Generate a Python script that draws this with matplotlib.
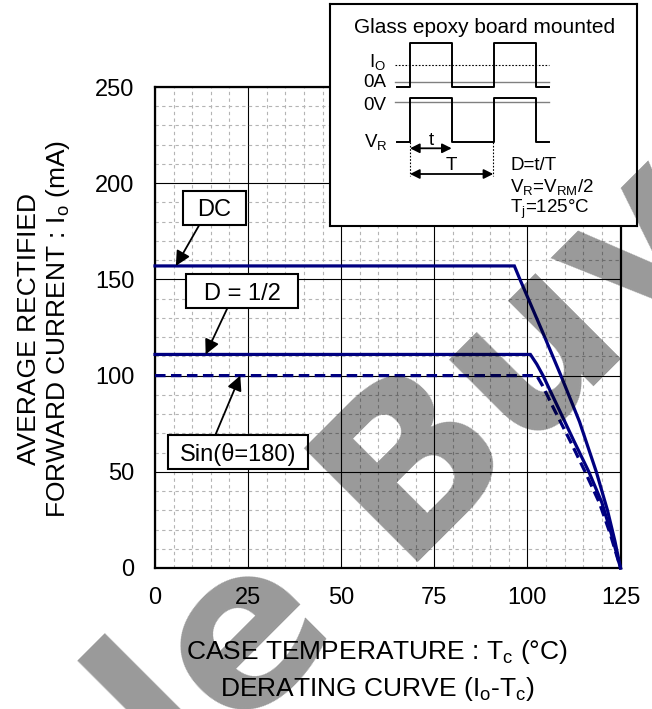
import matplotlib
matplotlib.use('Agg')
import matplotlib.pyplot as plt
from matplotlib.patches import Rectangle
from matplotlib.ticker import MultipleLocator
from matplotlib import font_manager as fm

plt.rcParams['font.family'] = ['Liberation Sans', 'DejaVu Sans']
plt.rcParams['mathtext.fontset'] = 'custom'
plt.rcParams['mathtext.rm'] = 'Liberation Sans'
plt.rcParams['mathtext.it'] = 'Liberation Sans:italic'
plt.rcParams['mathtext.bf'] = 'Liberation Sans:bold'

# ---------------- data ----------------
temp_dc = [0, 96.5, 98, 104, 109, 114, 118.5, 121.5, 123.5, 125]
io_dc = [157, 157, 150, 123, 100, 76, 50, 30, 14, 0]
temp_half = [0, 100.8, 102.5, 104.2, 108.6, 112.5, 116.5, 120.0, 122.5, 125]
io_half = [111, 111, 106, 100, 82, 66, 50, 34, 18, 0]
temp_sin = [0, 102.5, 104, 107.3, 111.5, 115.5, 119.3, 122.2, 125]
io_sin = [100, 100, 95, 82, 66, 50, 34, 18, 0]

x_ticks = [0, 25, 50, 75, 100, 125]
y_ticks = [0, 50, 100, 150, 200, 250]

labels = ["DC", "D = 1/2", "Sin(\u03b8=180)"]

# inset waveform (inset pixel coordinates)
wave_x = [396.7, 410, 410, 451.7, 451.7, 494.3, 494.3, 535.7, 535.7, 549]
current_y = [87.3, 87.3, 43.3, 43.3, 87.3, 87.3, 43.3, 43.3, 87.3, 87.3]
voltage_y = [141.7, 141.7, 98.3, 98.3, 141.7, 141.7, 98.3, 98.3, 141.7, 141.7]

NAVY = '#000080'
W, H = 652, 709
fig = plt.figure(figsize=(W / 100, H / 100), dpi=100)


def fx(px):
    return px / W


def fy(py):
    return 1 - py / H


ax = fig.add_axes([fx(155), fy(568), fx(620.5) - fx(155), fy(87) - fy(568)])
ax.set_xlim(0, 125)
ax.set_ylim(0, 250)
ax.xaxis.set_minor_locator(MultipleLocator(5))
ax.yaxis.set_minor_locator(MultipleLocator(10))
ax.set_xticks(x_ticks)
ax.set_yticks(y_ticks)
ax.set_axisbelow(True)
ax.grid(which='major', color='black', lw=0.8)
ax.grid(which='minor', color='#b4b4b4', lw=0.8, linestyle=(0, (3, 3)))
ax.tick_params(which='both', length=0)
ax.tick_params(axis='x', labelsize=17, pad=14)
ax.tick_params(axis='y', labelsize=17, pad=15)
for s in ax.spines.values():
    s.set_linewidth(1.6)

ax.plot(temp_dc, io_dc, color=NAVY, lw=2.3, zorder=3, clip_on=False,
        solid_joinstyle='miter')
ax.plot(temp_half, io_half, color=NAVY, lw=2.3, zorder=3, clip_on=False,
        solid_joinstyle='miter')
ax.plot(temp_sin, io_sin, color=NAVY, lw=2.3, zorder=3, clip_on=False,
        linestyle=(0, (3.3, 1.7)))

# annotation boxes
boxes = [
    ((7.5, 178.3), 17.0, 17.7, (11.9, 178.3), (5.6, 157)),
    ((8.4, 134.9), 30.1, 18.1, (19.4, 134.9), (13.6, 111)),
    ((3.6, 51.7), 37.6, 17.4, (16.2, 69.1), (22.9, 100)),
]
for lab, (xy, w, h, tail, tip) in zip(labels, boxes):
    ax.add_patch(Rectangle(xy, w, h, facecolor='white', edgecolor='black',
                           lw=1.5, zorder=6))
    ax.text(xy[0] + w / 2, xy[1] + h / 2, lab, ha='center', va='center_baseline',
            fontsize=17, zorder=7)
    ax.annotate('', xy=tip, xytext=tail,
                arrowprops=dict(arrowstyle='-|>', color='black', lw=1.3,
                                mutation_scale=22, shrinkA=0, shrinkB=0),
                zorder=5)

# axis labels
fig.text(fx(36), fy(329), "AVERAGE RECTIFIED", rotation=90, rotation_mode='anchor',
         ha='center', va='baseline', fontsize=19)
fig.text(fx(65.5), fy(329), r"FORWARD CURRENT : I$_\mathrm{o}$ (mA)", rotation=90,
         rotation_mode='anchor', ha='center', va='baseline', fontsize=19)
fig.text(fx(377), fy(659.5), r"CASE TEMPERATURE : T$_\mathrm{c}$ (°C)",
         ha='center', va='baseline', fontsize=19)
fig.text(fx(377), fy(696), r"DERATING CURVE (I$_\mathrm{o}$-T$_\mathrm{c}$)",
         ha='center', va='baseline', fontsize=19)

# ---------------- inset ----------------
axi = fig.add_axes([fx(329.5), fy(225.5), fx(636.5) - fx(329.5), fy(4) - fy(225.5)],
                   zorder=5)
axi.set_xlim(329.5, 636.5)
axi.set_ylim(225.5, 4)
axi.set_xticks([])
axi.set_yticks([])
for s in axi.spines.values():
    s.set_linewidth(1.5)

axi.text(485, 33.3, "Glass epoxy board mounted", ha='center', va='baseline', fontsize=15)
axi.plot([395, 549], [81.7, 81.7], color='#808080', lw=1.0)
axi.plot([395, 549], [102.3, 102.3], color='#808080', lw=1.0)
axi.plot([395, 549], [65, 65], color='black', lw=0.8, linestyle=(0, (1.5, 1.5)))
axi.plot(wave_x, current_y, color='black', lw=1.4)
axi.plot(wave_x, voltage_y, color='black', lw=1.4)
for xv in [410, 493.3]:
    axi.plot([xv, xv], [141.7, 176], color='black', lw=0.8, linestyle=(0, (1.5, 1.5)))
for (x0, x1, yv) in [(410, 451.7, 148.3), (410, 493.3, 174)]:
    axi.annotate('', xy=(x1, yv), xytext=(x0, yv),
                 arrowprops=dict(arrowstyle='<|-|>', color='black', lw=1.3,
                                 mutation_scale=14, shrinkA=0, shrinkB=0))
axi.text(386, 66.7, r"I$_\mathrm{O}$", ha='right', va='baseline', fontsize=13.5)
axi.text(386.7, 87.3, "0A", ha='right', va='baseline', fontsize=13.5)
axi.text(386.7, 110, "0V", ha='right', va='baseline', fontsize=13.5)
axi.text(388, 146.7, r"V$_\mathrm{R}$", ha='right', va='baseline', fontsize=13.5)
axi.text(431, 145, "t", ha='center', va='baseline', fontsize=13.5)
axi.text(451, 170, "T", ha='center', va='baseline', fontsize=13.5)
axi.text(510, 170, "D=t/T", ha='left', va='baseline', fontsize=13.5)
axi.text(510, 192, r"V$_\mathrm{R}$=V$_\mathrm{RM}$/2", ha='left', va='baseline', fontsize=13.5)
axi.text(510, 213, r"T$_\mathrm{j}$=125°C", ha='left', va='baseline', fontsize=13.5)

# ---------------- watermark ----------------
wm_prop = fm.FontProperties(family='DejaVu Sans', weight='bold', size=160)
fig.text(fx(397.6), fy(562.4), "Buy", rotation=45, rotation_mode='anchor', ha='left',
         va='baseline', fontproperties=wm_prop, color='black', alpha=0.4, zorder=20)
fig.text(fx(339), fy(621), "Sample", rotation=45, rotation_mode='anchor', ha='right',
         va='baseline', fontproperties=wm_prop, color='black', alpha=0.4, zorder=20)

fig.savefig('out.png', dpi=100)
